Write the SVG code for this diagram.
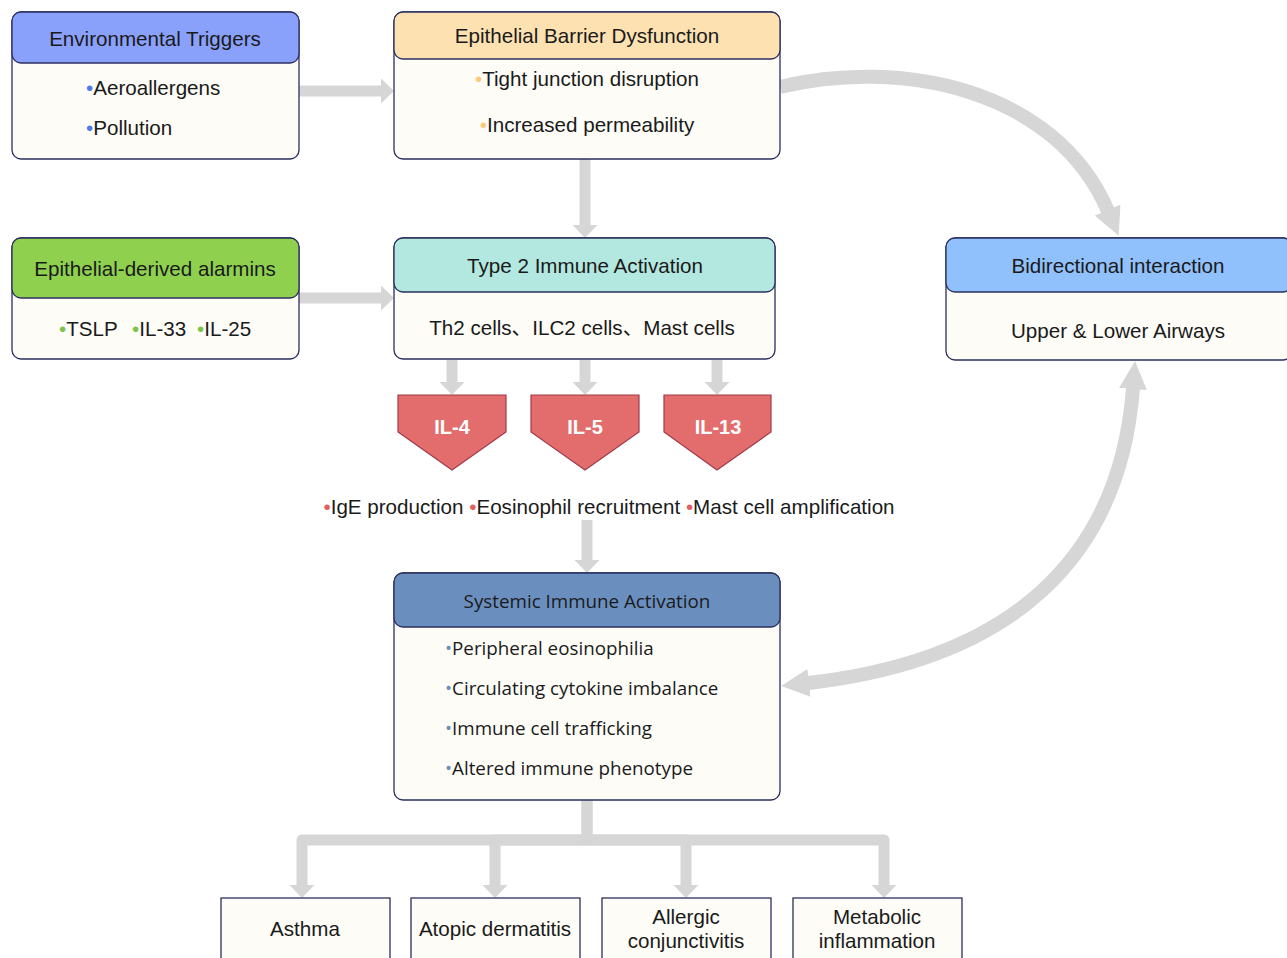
<svg xmlns="http://www.w3.org/2000/svg" width="1287" height="958" viewBox="0 0 1287 958">
<style>
.body{fill:#fdfcf7;stroke:#2b2f5e;stroke-width:1.3}
.t{font-family:"Liberation Sans",Arial,sans-serif;font-size:20.6px;fill:#1a1a1a}
.o{font-family:"Open Sans","Noto Sans",sans-serif;font-size:18.8px;fill:#1a1a1a}
.c{text-anchor:middle}
.il{font-family:"Liberation Sans",Arial,sans-serif;font-size:20px;font-weight:bold;fill:#ffffff;text-anchor:middle}
.pent{fill:#e36d6d;stroke:#a03a4a;stroke-width:1.2}
.conn{fill:none;stroke:#d6d6d6}
.s{stroke-width:11;marker-end:url(#ah)}
.cv{stroke-width:14}
</style>
<defs>
<marker id="ah" viewBox="0 0 13 25" refX="1" refY="12.5" markerWidth="13" markerHeight="25" markerUnits="userSpaceOnUse" orient="auto"><path d="M0,0 L13,12.5 L0,25 z" fill="#d6d6d6"/></marker>
<marker id="ahc" viewBox="0 0 28 28" refX="1" refY="14" markerWidth="28" markerHeight="28" markerUnits="userSpaceOnUse" orient="auto-start-reverse"><path d="M0,0 L28,14 L0,28 z" fill="#d6d6d6"/></marker>
</defs>

<g id="connectors">
<line class="conn s" x1="299" y1="91" x2="382" y2="91"/>
<line class="conn s" x1="299" y1="298" x2="382" y2="298"/>
<line class="conn s" x1="585" y1="159" x2="585" y2="226"/>
<line class="conn s" x1="452" y1="360" x2="452" y2="383"/>
<line class="conn s" x1="585" y1="360" x2="585" y2="383"/>
<line class="conn s" x1="717" y1="360" x2="717" y2="383"/>
<line class="conn s" x1="587" y1="520" x2="587" y2="561"/>
<path class="conn s" stroke-width="12" stroke-linejoin="round" d="M587 800 V840 H302 V886"/>
<path class="conn s" stroke-width="12" stroke-linejoin="round" d="M587 840 H495 V886"/>
<path class="conn s" stroke-width="12" stroke-linejoin="round" d="M587 840 H686 V886"/>
<path class="conn s" stroke-width="12" stroke-linejoin="round" d="M587 800 V840 H884 V886"/>
<path class="conn cv" marker-end="url(#ahc)" d="M780 87 C900 58, 1055 88, 1108 211"/>
<path class="conn cv" marker-start="url(#ahc)" marker-end="url(#ahc)" d="M1133 388 C1120 560, 1010 660, 808 683"/>
</g>

<g id="env">
<rect class="body" x="12" y="12" width="287" height="147" rx="9"/>
<rect class="body" x="12" y="12" width="287" height="51" rx="9" style="fill:#8aa1fc"/>
<text class="t c" x="155" y="46">Environmental Triggers</text>
<text class="t" x="86" y="95"><tspan fill="#4a7cf0">•</tspan>Aeroallergens</text>
<text class="t" x="86" y="135"><tspan fill="#4a7cf0">•</tspan>Pollution</text>
</g>

<g id="epi">
<rect class="body" x="394" y="12" width="386" height="147" rx="9"/>
<rect class="body" x="394" y="12" width="386" height="47" rx="9" style="fill:#fde1b1"/>
<text class="t c" x="587" y="43">Epithelial Barrier Dysfunction</text>
<text class="t c" x="587" y="86"><tspan fill="#fcc97c">•</tspan>Tight junction disruption</text>
<text class="t c" x="587" y="132"><tspan fill="#fcc97c">•</tspan>Increased permeability</text>
</g>

<g id="alarmins">
<rect class="body" x="12" y="238" width="287" height="121" rx="9"/>
<rect class="body" x="12" y="238" width="287" height="60" rx="9" style="fill:#8fd14f"/>
<text class="t c" x="155" y="276">Epithelial-derived alarmins</text>
<text class="t" x="59" y="336"><tspan fill="#7cc447">•</tspan>TSLP</text>
<text class="t" x="132" y="336"><tspan fill="#7cc447">•</tspan>IL-33</text>
<text class="t" x="197" y="336"><tspan fill="#7cc447">•</tspan>IL-25</text>
</g>

<g id="type2">
<rect class="body" x="394" y="238" width="381" height="121" rx="9"/>
<rect class="body" x="394" y="238" width="381" height="54" rx="9" style="fill:#b2e8df"/>
<text class="t c" x="585" y="273">Type 2 Immune Activation</text>
<text class="t c" x="582" y="335" style="font-family:'Liberation Sans','Noto Sans CJK SC',sans-serif">Th2 cells、ILC2 cells、Mast cells</text>
</g>

<g id="bidirectional">
<rect class="body" x="946" y="238" width="346" height="122" rx="9"/>
<rect class="body" x="946" y="238" width="346" height="54" rx="9" style="fill:#90c1fc"/>
<text class="t c" x="1118" y="273">Bidirectional interaction</text>
<text class="t c" x="1118" y="338">Upper &amp; Lower Airways</text>
</g>

<g id="il4">
<polygon class="pent" points="398,395 506,395 506,432 452,470 398,432"/>
<text class="il" x="452" y="434">IL-4</text>
</g>
<g id="il5">
<polygon class="pent" points="531,395 639,395 639,432 585,470 531,432"/>
<text class="il" x="585" y="434">IL-5</text>
</g>
<g id="il13">
<polygon class="pent" points="664,395 771,395 771,432 717,470 664,432"/>
<text class="il" x="718" y="434">IL-13</text>
</g>

<g id="effects">
<text class="t c" x="609" y="514"><tspan fill="#e06060">•</tspan>IgE production <tspan fill="#e06060">•</tspan>Eosinophil recruitment <tspan fill="#e06060">•</tspan>Mast cell amplification</text>
</g>

<g id="systemic">
<rect class="body" x="394" y="573" width="386" height="227" rx="9"/>
<rect class="body" x="394" y="573" width="386" height="54" rx="9" style="fill:#6a8fbf"/>
<text class="o c" x="587" y="608">Systemic Immune Activation</text>
<text class="o" x="445" y="655"><tspan fill="#6a8fbf">•</tspan>Peripheral eosinophilia</text>
<text class="o" x="445" y="695"><tspan fill="#6a8fbf">•</tspan>Circulating cytokine imbalance</text>
<text class="o" x="445" y="735"><tspan fill="#6a8fbf">•</tspan>Immune cell trafficking</text>
<text class="o" x="445" y="775"><tspan fill="#6a8fbf">•</tspan>Altered immune phenotype</text>
</g>

<g id="asthma">
<rect class="body" x="221" y="898" width="169" height="80"/>
<text class="t c" x="305" y="936">Asthma</text>
</g>
<g id="atopic">
<rect class="body" x="411" y="898" width="169" height="80"/>
<text class="t c" x="495" y="936">Atopic dermatitis</text>
</g>
<g id="allergic">
<rect class="body" x="602" y="898" width="169" height="80"/>
<text class="t c" x="686" y="924">Allergic</text>
<text class="t c" x="686" y="948">conjunctivitis</text>
</g>
<g id="metabolic">
<rect class="body" x="793" y="898" width="169" height="80"/>
<text class="t c" x="877" y="924">Metabolic</text>
<text class="t c" x="877" y="948">inflammation</text>
</g>
</svg>
